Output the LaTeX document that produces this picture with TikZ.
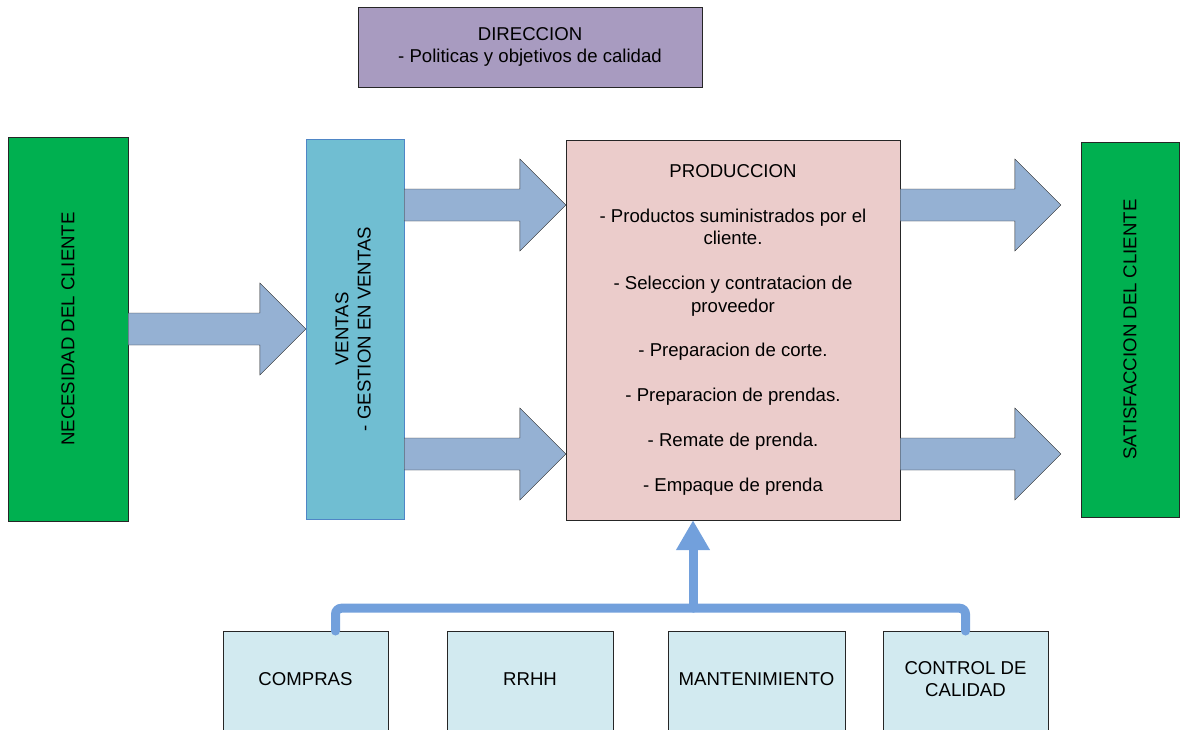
\documentclass[tikz,border=0pt]{standalone}
\usepackage{fontspec}
\setmainfont{Liberation Sans}
\usetikzlibrary{calc,arrows.meta}

\definecolor{cliente}{HTML}{00B050}
\definecolor{ventas}{HTML}{70BED2}
\definecolor{ventasborde}{HTML}{4F86C6}
\definecolor{prod}{HTML}{EBCCCB}
\definecolor{dir}{HTML}{A89BC0}
\definecolor{flecha}{HTML}{95B1D3}
\definecolor{apoyo}{HTML}{D2EAF0}
\definecolor{enlace}{HTML}{72A0DC}

\tikzset{
  box/.style={draw=black!85,thin,align=center,inner sep=0pt},
  fatarrow/.style={draw=black!85,thin,fill=flecha},
  conector/.style={draw=enlace,line width=9pt,line cap=round,rounded corners=6pt},
}

% block arrow: start point, tip point (same height)
\newcommand{\bigarrow}[2]{%
  \filldraw[fatarrow] let \p1=(#1), \p2=(#2) in
    (\x1,\y1+16pt) -- (\x2-46pt,\y1+16pt) -- (\x2-46pt,\y1+46pt) -- (\x2,\y1)
    -- (\x2-46pt,\y1-46pt) -- (\x2-46pt,\y1-16pt) -- (\x1,\y1-16pt) -- cycle;
}

\begin{document}
\begin{tikzpicture}[x=1pt,y=-1pt,font=\fontsize{18.6}{22.4}\selectfont]
\useasboundingbox (0,0) rectangle (1190,729);
\clip (0,0) rectangle (1190,729);
%main boxes
\node[box,fill=dir,minimum width=344pt,minimum height=80pt] (dir) at (530,47)
  {DIRECCION\\- Politicas y objetivos de calidad};
\node[box,fill=cliente,minimum width=120pt,minimum height=384pt] (nec) at (68,329)
  {\rotatebox{90}{NECESIDAD DEL CLIENTE}};
\node[box,draw=ventasborde,fill=ventas,minimum width=98pt,minimum height=380pt] (ven) at (355,329)
  {\rotatebox{90}{\begin{tabular}{@{}c@{}}VENTAS\\- GESTION EN VENTAS\end{tabular}}};
\node[box,fill=prod,minimum width=334pt,minimum height=380pt] (prod) at (733,330)
  {PRODUCCION\\[22.4pt]
   - Productos suministrados por el\\cliente.\\[22.4pt]
   - Seleccion y contratacion de\\proveedor\\[22.4pt]
   - Preparacion de corte.\\[22.4pt]
   - Preparacion de prendas.\\[22.4pt]
   - Remate de prenda.\\[22.4pt]
   - Empaque de prenda};
\node[box,fill=cliente,minimum width=98pt,minimum height=375pt] (sat) at (1130,329.5)
  {\rotatebox{90}{SATISFACCION DEL CLIENTE}};
%support boxes
\foreach \n/\x/\w/\t in {compras/305.5/165/COMPRAS,rrhh/530/166/RRHH,
    mant/756.5/177/MANTENIMIENTO,cal/965.5/165/{CONTROL DE\\CALIDAD}} {
  \node[box,fill=apoyo,minimum width=\w pt,minimum height=120pt,anchor=north] (\n) at (\x,631) {};
  \node[align=center] (\n-t) at ($(\n.north)+(0,48)$) {\t};
}
%block arrows
\bigarrow{nec.east}{ven.west}
\bigarrow{ven.east |- 0,205}{prod.west |- 0,205}
\bigarrow{ven.east |- 0,454}{prod.west |- 0,454}
\bigarrow{prod.east |- 0,205}{$(sat.west |- 0,205)+(-20,0)$}
\bigarrow{prod.east |- 0,454}{$(sat.west |- 0,454)+(-20,0)$}
%support line
\coordinate (bus) at ($(prod.south)+(-40,88)$);
\draw[conector] ($(compras.north)+(30,0)$) |- (cal.north |- bus) -- (cal.north);
\draw[conector,-{Triangle[length=30pt,width=32pt]}] (bus) -- (bus |- prod.south);
\end{tikzpicture}
\end{document}
